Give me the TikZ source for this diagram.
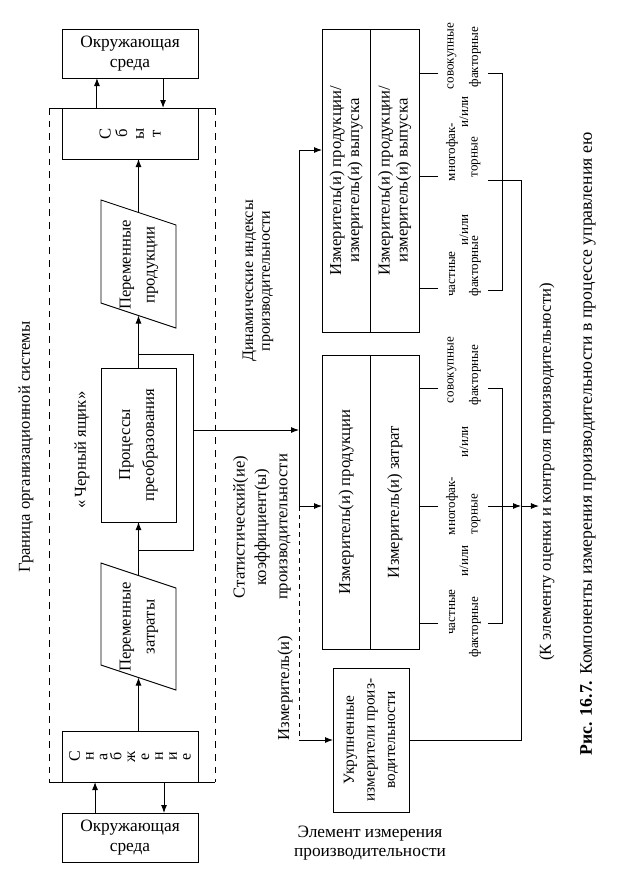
\documentclass[tikz,border=0pt]{standalone}
\usepackage{fontspec}
\setmainfont{Liberation Serif}
\usetikzlibrary{arrows.meta,calc}
\begin{document}
\begin{tikzpicture}[x=0.75pt,y=-0.75pt,line width=0.7pt,
  arr/.style={-{Latex[length=6pt,width=4.5pt]}},
  box/.style={draw,inner sep=0pt,outer sep=0pt,align=center},
  rbox/.style={box,rotate=90},
  rtxt/.style={rotate=90,inner sep=0pt,align=center},
  bdash/.style={dash pattern=on 5pt off 4.5pt},
  busdash/.style={dash pattern=on 3.5pt off 3pt},
  fenv/.style={font=\fontsize{13}{14.5}\selectfont},
  fmain/.style={font=\fontsize{12.5}{18}\selectfont},
  fmeas/.style={font=\fontsize{12.5}{13.5}\selectfont},
  fsmall/.style={font=\fontsize{9.8}{10}\selectfont},
  flab/.style={font=\fontsize{12.5}{16}\selectfont},
]
\useasboundingbox (0,0) rectangle (620,869);

% environment boxes
\node[box,fenv,minimum width=102pt,minimum height=36.75pt] (envT) at (130,53.5) {Окружающая\\среда};
\node[box,fenv,minimum width=102pt,minimum height=36.75pt] (envB) at (130,837.5) {Окружающая\\среда};

% sales / supply
\node[rbox,font=\fontsize{12.5}{12.5}\selectfont,minimum width=38.25pt,minimum height=102pt] (sbyt) at (130,133.5) {С\\б\\ы\\т};
\node[rbox,font=\fontsize{12}{10.4}\selectfont,minimum width=38.25pt,minimum height=102pt] (snab) at (130,756.5) {С\\н\\а\\б\\ж\\е\\н\\и\\е};

% processes
\node[rbox,fmain,minimum width=115.5pt,minimum height=56.25pt] (proc) at (138.5,445) {Процессы\\преобразования};

% parallelograms
\coordinate (p1) at (101,200); \coordinate (p2) at (176,225);
\coordinate (p3) at (176,328); \coordinate (p4) at (101,303);
\draw (p1) -- (p2) -- (p3) -- (p4) -- cycle;
\node[rtxt,fmain] (prodT) at (139,265) {Переменные\\продукции};
\coordinate (z1) at (101,563); \coordinate (z2) at (176,588);
\coordinate (z3) at (176,690); \coordinate (z4) at (101,665);
\draw (z1) -- (z2) -- (z3) -- (z4) -- cycle;
\node[rtxt,fmain] (zatrT) at (139,627) {Переменные\\затраты};

% boundary of the organisational system
\coordinate (bd1) at (49,108); \coordinate (bd2) at (215,108);
\coordinate (bd3) at (215,782); \coordinate (bd4) at (49,782);
\draw[bdash] (bd1) -- (bd4);
\draw[bdash] (bd2) -- (bd3);
\draw (bd1) -- (bd2);
\draw (bd4) -- (bd3);

% labels left
\node[rtxt,flab] (gran) at (26,447) {Граница организационной системы};
\node[rtxt,flab] (bbox) at (82,450) {«\,Черный ящик»};

% env arrows
\coordinate (eTl) at ($(envT.south west)!.257!(envT.south east)$);
\coordinate (eTr) at ($(envT.south west)!.743!(envT.south east)$);
\draw[arr] (eTl |- sbyt.east) -- (eTl);
\draw[arr] (eTr) -- (eTr |- sbyt.east);
\coordinate (eBl) at ($(envB.north west)!.243!(envB.north east)$);
\coordinate (eBr) at ($(envB.north west)!.75!(envB.north east)$);
\draw[arr] (eBl) -- (eBl |- snab.west);
\draw[arr] (eBr |- snab.west) -- (eBr);

% main flow
\coordinate (zb) at ($(z4)!.5!(z3)$);
\coordinate (zt) at ($(z1)!.5!(z2)$);
\coordinate (pb) at ($(p4)!.5!(p3)$);
\coordinate (pt) at ($(p1)!.5!(p2)$);
\draw[arr] (zb |- snab.east) -- (zb);
\draw[arr] (zt) -- (proc.west);
\draw[arr] (proc.east) -- (pb);
\draw[arr] (pt) -- (pt |- sbyt.west);

% feedback loop and output
\coordinate (lpT) at (193,354);
\coordinate (lpB) at (193,550);
\coordinate (lpO) at (193,430);
\draw (proc.east |- lpT) -- (lpT) -- (lpB) -- (proc.west |- lpB);

% measurement boxes
\node[rbox,fmeas,minimum width=227.25pt,minimum height=36.375pt] (measTa) at (346.25,180.5) {Измеритель(и) продукции/\\измеритель(и) выпуска};
\node[rbox,fmeas,minimum width=227.25pt,minimum height=36.375pt] (measTb) at (394.75,180.5) {Измеритель(и) продукции/\\измеритель(и) выпуска};
\node[rbox,fmeas,minimum width=220.5pt,minimum height=36.375pt] (measPa) at (346.25,502) {Измеритель(и) продукции};
\node[rbox,fmeas,minimum width=220.5pt,minimum height=36.375pt] (measPb) at (394.75,502) {Измеритель(и) затрат};
\node[rbox,font=\fontsize{11.5}{15.5}\selectfont,minimum width=108pt,minimum height=57pt] (ukr) at (371,740) {Укрупненные\\измерители произ-\\водительности};

% bus
\coordinate (busT) at (299,150);
\coordinate (busM) at (299,506);
\coordinate (busB) at (299,740);
\draw[arr] (lpO) -- (lpO -| busT);
\draw (busT) -- (busM);
\draw[arr] (busT) -- (busT -| measTa.north);
\draw[arr] (busM) -- (busM -| measPa.north);
\draw[busdash] (busM) -- (busB);
\draw[arr] (busB) -- (ukr.north);

% middle labels
\node[rtxt,font=\fontsize{12}{12.5}\selectfont] (dyn) at (258,281) {Динамические индексы\\производительности};
\node[rtxt,flab] (stat) at (262,527) {Статистический(ие)\\коэффициент(ы)\\производительности};
\node[rtxt,flab] (izm) at (285,688) {Измеритель(и)};

% small words, top box
\node[rtxt,fsmall] (s1) at (452,56) {совокупные};
\node[rtxt,fsmall] (s2) at (475,57) {факторные};
\node[rtxt,fsmall] (s3) at (464,112) {и/или};
\node[rtxt,fsmall] (s4) at (452,152) {многофак-};
\node[rtxt,fsmall] (s5) at (476,157) {торные};
\node[rtxt,fsmall] (s6) at (464,230) {и/или};
\node[rtxt,fsmall] (s7) at (452,274) {частные};
\node[rtxt,fsmall] (s8) at (475,266) {факторные};
% small words, second box
\node[rtxt,fsmall] (t1) at (452,370) {совокупные};
\node[rtxt,fsmall] (t2) at (475,375) {факторные};
\node[rtxt,fsmall] (t3) at (464,442) {и/или};
\node[rtxt,fsmall] (t4) at (452,506) {многофак-};
\node[rtxt,fsmall] (t5) at (476,514) {торные};
\node[rtxt,fsmall] (t6) at (464,561) {и/или};
\node[rtxt,fsmall] (t7) at (452,612) {частные};
\node[rtxt,fsmall] (t8) at (475,627) {факторные};

% ticks and brackets, top box
\coordinate (a1) at (438,73);  \coordinate (a2) at (438,176); \coordinate (a3) at (438,288);
\coordinate (b1) at (488,73);  \coordinate (b2) at (488,180); \coordinate (b3) at (488,290);
\coordinate (c1) at (502,73);  \coordinate (c3) at (502,290);
\coordinate (rv1) at (521,180); \coordinate (rv3) at (521,740);
\draw (measTb.south |- a1) -- (a1);
\draw (measTb.south |- a2) -- (a2);
\draw (measTb.south |- a3) -- (a3);
\draw (b1) -- (c1) -- (c3) -- (b3);
\draw (b2) -- (rv1) -- (rv3) -- (ukr.south);

% ticks and brackets, second box
\coordinate (d1) at (438,388); \coordinate (d2) at (438,506); \coordinate (d3) at (438,623);
\coordinate (e1) at (488,388); \coordinate (e2) at (488,506); \coordinate (e3) at (488,623);
\coordinate (f1) at (502,388); \coordinate (f3) at (502,623);
\coordinate (rv2) at (521,506);
\draw (measPb.south |- d1) -- (d1);
\draw (measPb.south |- d2) -- (d2);
\draw (measPb.south |- d3) -- (d3);
\draw (e1) -- (f1) -- (f3) -- (e3);

% to control element
\node[rtxt,flab] (kel) at (547,472) {(К элементу оценки и контроля производительности)};
\draw[arr] (e2) -- (rv2);
\draw[arr] (rv2) -- (rv2 -| kel.north);

% bottom label
\node[font=\fontsize{13}{14.3}\selectfont,align=center,inner sep=0pt] (elem) at (370,843) {Элемент измерения\\производительности};

% caption
\node[rtxt,font=\fontsize{13.3}{15}\selectfont] (cap) at (588,444) {\textbf{Рис. 16.7.} Компоненты измерения производительности в процессе управления ею};
\end{tikzpicture}
\end{document}
